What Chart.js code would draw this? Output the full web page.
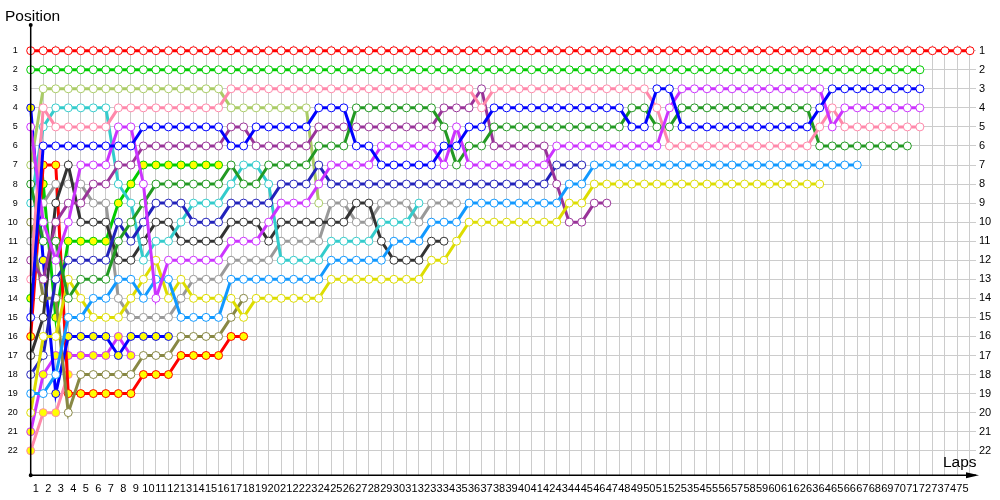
<!DOCTYPE html>
<html>
<head>
<meta charset="utf-8">
<script src="https://cdn.jsdelivr.net/npm/chart.js@4.4.0/dist/chart.umd.min.js"></script>
<style>
  html, body { margin: 0; padding: 0; background: #fff; }
  #wrap { width: 1000px; height: 500px; }
</style>
</head>
<body>
<div id="wrap"><canvas id="lapChart"></canvas></div>
<script>
// laps (0 = grid) and positions
const laps = [0,1,2,3,4,5,6,7,8,9,10,11,12,13,14,15,16,17,18,19,20,21,22,23,24,25,26,27,28,29,30,31,32,33,34,35,36,37,38,39,40,41,42,43,44,45,46,47,48,49,50,51,52,53,54,55,56,57,58,59,60,61,62,63,64,65,66,67,68,69,70,71,72,73,74,75];
const positions = [1,2,3,4,5,6,7,8,9,10,11,12,13,14,15,16,17,18,19,20,21,22];

// position of each car, lap by lap
const redA = [1,1,1,1,1,1,1,1,1,1,1,1,1,1,1,1,1,1,1,1,1,1,1,1,1,1,1,1,1,1,1,1,1,1,1,1,1,1,1,1,1,1,1,1,1,1,1,1,1,1,1,1,1,1,1,1,1,1,1,1,1,1,1,1,1,1,1,1,1,1,1,1,1,1,1,1];
const greenA = [2,2,2,2,2,2,2,2,2,2,2,2,2,2,2,2,2,2,2,2,2,2,2,2,2,2,2,2,2,2,2,2,2,2,2,2,2,2,2,2,2,2,2,2,2,2,2,2,2,2,2,2,2,2,2,2,2,2,2,2,2,2,2,2,2,2,2,2,2,2,2,2];
const blueA = [15,6,6,6,6,6,6,6,6,5,5,5,5,5,5,5,6,6,5,5,5,5,5,4,4,4,6,6,7,7,7,7,7,6,6,5,5,4,4,4,4,4,4,4,4,4,4,4,5,5,3,3,5,5,5,5,5,5,5,5,5,5,5,4,3,3,3,3,3,3,3,3];
const violetA = [5,10,12,10,7,7,7,5,5,8,14,12,12,12,12,12,11,11,11,10,9,9,9,8,7,7,7,7,6,6,6,6,6,7,5,7,7,7,7,7,7,7,6,6,6,6,6,6,6,6,6,4,3,3,3,3,3,3,3,3,3,3,3,3,5,4,4,4,4,4,4,4];
const pinkA = [13,4,5,5,5,5,5,4,4,4,4,4,4,4,4,4,3,3,3,3,3,3,3,3,3,3,3,3,3,3,3,3,3,3,3,3,4,3,3,3,3,3,3,3,3,3,3,3,3,3,4,6,6,6,6,6,6,6,6,6,6,6,6,5,4,5,5,5,5,5,5,5];
const darkGreenA = [8,11,11,14,13,13,13,11,10,9,8,8,8,8,8,8,7,8,8,7,7,7,7,6,6,6,4,4,4,4,4,4,4,5,7,6,6,5,5,5,5,5,5,5,5,5,5,5,4,4,5,5,4,4,4,4,4,4,4,4,4,4,4,6,6,6,6,6,6,6,6];
const lightBlueA = [19,19,18,15,15,14,14,13,13,14,13,13,15,15,15,15,13,13,13,13,13,13,13,13,12,12,12,12,12,11,11,11,10,10,10,9,9,9,9,9,9,9,9,8,8,7,7,7,7,7,7,7,7,7,7,7,7,7,7,7,7,7,7,7,7,7,7];
const yellowA = [20,16,16,13,14,15,15,15,14,13,12,14,13,14,14,14,14,15,14,14,14,14,14,14,13,13,13,13,13,13,13,13,12,12,11,10,10,10,10,10,10,10,10,9,9,8,8,8,8,8,8,8,8,8,8,8,8,8,8,8,8,8,8,8];
const purpleA = [12,13,10,9,9,8,8,7,7,6,6,6,6,6,6,6,5,5,6,6,6,6,6,5,5,5,5,5,5,5,5,5,5,4,4,4,3,6,6,6,6,6,8,10,10,9,9];
const navyA = [18,17,13,12,12,12,12,10,11,10,9,9,9,10,10,10,9,9,9,9,8,8,8,7,8,8,8,8,8,8,8,8,8,8,8,8,8,8,8,8,8,8,7,7,7];
const limeA = [7,3,3,3,3,3,3,3,3,3,3,3,3,3,3,3,4,4,4,4,4,4,4,9];
const cyanA = [9,5,4,4,4,4,4,8,9,12,11,11,10,9,9,9,8,7,7,8,12,12,12,12,11,11,11,11,10,10,10,9];
const blackA = [17,15,9,7,10,10,10,12,12,11,10,10,11,11,11,11,10,10,10,11,10,10,10,10,10,10,9,9,11,12,12,12,11,11];
const greyA = [11,9,8,8,8,9,9,14,15,15,15,15,14,13,13,13,12,12,12,12,11,11,11,11,9,9,10,10,9,9,9,10,9,9,9];
const oliveA = [10,14,14,20,18,18,18,18,18,17,17,17,16,16,16,16,15,14];
const blueB = [4,12,19,16,16,16,16,17,16,16,16,16];
const redB = [16,7,7,19,19,19,19,19,19,18,18,18,17,17,17,17,16,16];
const greenB = [14,8,15,11,11,11,11,9,8,7,7,7,7,7,7,7];
const violetB = [21,18,17,17,17,17,17,16,17];
const pinkB = [22,20,20,18];

const series = [redA, greenA, blueA, violetA, pinkA, darkGreenA, lightBlueA, yellowA, purpleA, navyA,
                limeA, cyanA, blackA, greyA, oliveA, blueB, redB, greenB, violetB, pinkB];

// styling, one entry per series
const lineColors = ['#ff0000', '#00cc00', '#0000ff', '#cc33ff', '#ff88aa', '#229922', '#1199ff', '#dddd00', '#993399', '#2222bb',
                    '#aacc66', '#33cccc', '#333333', '#999999', '#888844', '#0000ff', '#ff0000', '#00cc00', '#cc33ff', '#ff88aa'];
const yellowDot = [false, false, false, false, false, false, false, false, false, false,
                   false, false, false, false, false, true, true, true, true, true];

const datasets = series.map((arr, k) => ({
  data: arr.map((p, i) => ({ x: laps[i], y: p })),
  borderColor: lineColors[k],
  backgroundColor: lineColors[k],
  borderWidth: 3,
  pointRadius: 4,
  pointBorderWidth: 1,
  pointBorderColor: lineColors[k],
  pointBackgroundColor: yellowDot[k] ? '#ffff00' : '#ffffff',
  tension: 0,
  clip: false
}));

// axis lines with arrow ends and the two axis titles
const axisDecor = {
  id: 'axisDecor',
  afterDraw(chart) {
    const { ctx, chartArea } = chart;
    const x0 = chartArea.left, y0 = chartArea.bottom;
    ctx.save();
    ctx.strokeStyle = '#000';
    ctx.fillStyle = '#000';
    ctx.lineWidth = 1.5;
    ctx.beginPath();
    ctx.moveTo(x0, y0);
    ctx.lineTo(x0, 25);
    ctx.moveTo(x0, y0);
    ctx.lineTo(976, y0);
    ctx.stroke();
    ctx.beginPath();
    ctx.arc(x0, 25, 2, 0, Math.PI * 2);
    ctx.arc(x0, y0, 2, 0, Math.PI * 2);
    ctx.fill();
    ctx.beginPath();
    ctx.moveTo(979, y0);
    ctx.lineTo(966, y0 - 3);
    ctx.lineTo(966, y0 + 3);
    ctx.closePath();
    ctx.fill();
    ctx.font = '15.5px "Liberation Sans", Arial, sans-serif';
    ctx.textBaseline = 'alphabetic';
    ctx.textAlign = 'left';
    ctx.fillText('Position', 5, 21);
    ctx.fillText('Laps', 943, 467);
    ctx.restore();
  }
};

new Chart(document.getElementById('lapChart'), {
  type: 'line',
  data: { datasets },
  plugins: [axisDecor],
  options: {
    responsive: true,
    maintainAspectRatio: false,
    animation: false,
    layout: { padding: { top: 45, left: 0, right: 0, bottom: 0 }, autoPadding: false },
    plugins: { legend: { display: false }, tooltip: { enabled: false } },
    scales: {
      x: {
        type: 'linear',
        min: 0,
        max: 75.48,
        afterBuildTicks: s => { s.ticks = laps.map(v => ({ value: v })); },
        afterFit: s => { s.height = 24.7; },
        grid: { color: '#cccccc', lineWidth: 1, drawTicks: false },
        border: { display: false },
        ticks: {
          autoSkip: false,
          maxRotation: 0,
          labelOffset: 5,
          padding: 7,
          color: '#000',
          font: { family: '"Liberation Sans", Arial, sans-serif', size: 11 },
          callback: v => (v < 75 ? String(v + 1) : '')
        }
      },
      y: {
        position: 'left',
        reverse: true,
        min: 0.7,
        max: 23.29,
        afterBuildTicks: s => { s.ticks = positions.map(v => ({ value: v })); },
        afterFit: s => { s.width = 30.7; },
        grid: { color: '#cccccc', lineWidth: 1, drawTicks: false },
        border: { display: false },
        ticks: {
          padding: 13,
          color: '#000',
          font: { family: '"Liberation Sans", Arial, sans-serif', size: 9 }
        }
      },
      y2: {
        position: 'right',
        reverse: true,
        min: 0.7,
        max: 23.29,
        afterBuildTicks: s => { s.ticks = positions.map(v => ({ value: v })); },
        afterFit: s => { s.width = 24; },
        grid: { display: false, drawTicks: false },
        border: { display: false },
        ticks: {
          padding: 3,
          color: '#000',
          font: { family: '"Liberation Sans", Arial, sans-serif', size: 11 }
        }
      }
    }
  }
});
</script>
</body>
</html>
